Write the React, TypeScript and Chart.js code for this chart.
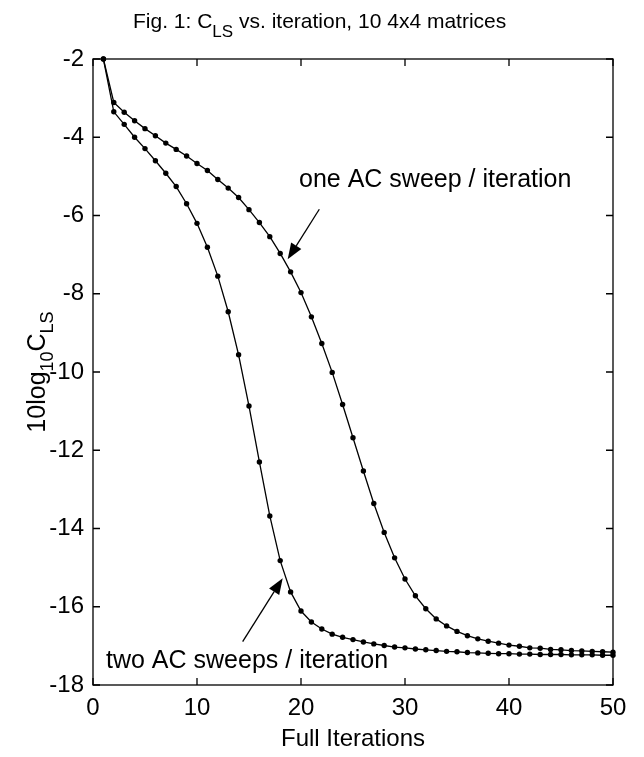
import { useEffect, useRef } from "react";
import { Chart, registerables } from "chart.js";

Chart.register(...registerables);

const iterations = Array.from({ length: 50 }, (_, i) => i + 1);

const oneSweep = [
  -2, -3.11, -3.36, -3.58, -3.78, -3.96, -4.15, -4.31, -4.48, -4.67,
  -4.85, -5.08, -5.3, -5.54, -5.85, -6.18, -6.54, -6.97, -7.44, -7.97,
  -8.59, -9.27, -10.01, -10.83, -11.68, -12.53, -13.36, -14.1, -14.75, -15.29,
  -15.72, -16.05, -16.31, -16.49, -16.63, -16.74, -16.82, -16.88, -16.93, -16.98,
  -17.01, -17.05, -17.06, -17.09, -17.1, -17.12, -17.13, -17.14, -17.15, -17.16,
];

const twoSweeps = [
  -2, -3.35, -3.67, -4.0, -4.29, -4.6, -4.92, -5.26, -5.7, -6.2,
  -6.81, -7.55, -8.46, -9.56, -10.87, -12.3, -13.68, -14.82, -15.62, -16.11,
  -16.39, -16.57, -16.7, -16.78, -16.84, -16.9, -16.95, -16.99, -17.03, -17.05,
  -17.08, -17.1, -17.12, -17.14, -17.15, -17.17, -17.18, -17.19, -17.2, -17.2,
  -17.21, -17.21, -17.22, -17.22, -17.22, -17.23, -17.23, -17.23, -17.24, -17.24,
];

const xTicks = [0, 10, 20, 30, 40, 50];
const yTicks = [-2, -4, -6, -8, -10, -12, -14, -16, -18];

const titleRuns = [
  { text: "Fig. 1: C", sub: false },
  { text: "LS", sub: true },
  { text: " vs. iteration, 10 4x4 matrices", sub: false },
];
const yLabelRuns = [
  { text: "10log", sub: false },
  { text: "10", sub: true },
  { text: "C", sub: false },
  { text: "LS", sub: true },
];
const xLabel = "Full Iterations";

const labelOne = "one AC sweep / iteration";
const labelTwo = "two AC sweeps / iteration";
// annotation anchors in data coordinates
const labelOneAt = [19.81, -5.27];
const labelTwoAt = [1.25, -17.57];
const arrowOne = { tail: [21.76, -5.84], tip: [18.72, -7.12] };
const arrowTwo = { tail: [14.39, -16.89], tip: [18.24, -15.27] };

const FONT = '"Liberation Sans", Arial, Helvetica, sans-serif';

type Run = { text: string; sub: boolean };

function runsWidth(ctx: CanvasRenderingContext2D, runs: Run[], main: number, sub: number) {
  let w = 0;
  for (const r of runs) {
    ctx.font = `${r.sub ? sub : main}px ${FONT}`;
    w += ctx.measureText(r.text).width;
  }
  return w;
}

function drawRuns(
  ctx: CanvasRenderingContext2D,
  runs: Run[],
  x: number,
  y: number,
  main: number,
  sub: number,
  subShift: number
) {
  let cx = x;
  for (const r of runs) {
    ctx.font = `${r.sub ? sub : main}px ${FONT}`;
    ctx.fillText(r.text, cx, r.sub ? y + subShift : y);
    cx += ctx.measureText(r.text).width;
  }
}

function drawArrow(ctx: CanvasRenderingContext2D, x0: number, y0: number, x1: number, y1: number) {
  const ang = Math.atan2(y1 - y0, x1 - x0);
  const len = 16;
  const half = 6;
  const bx = x1 - len * Math.cos(ang);
  const by = y1 - len * Math.sin(ang);
  ctx.beginPath();
  ctx.moveTo(x0, y0);
  ctx.lineTo(bx, by);
  ctx.stroke();
  ctx.beginPath();
  ctx.moveTo(x1, y1);
  ctx.lineTo(bx + half * Math.sin(ang), by - half * Math.cos(ang));
  ctx.lineTo(bx - half * Math.sin(ang), by + half * Math.cos(ang));
  ctx.closePath();
  ctx.fill();
}

const figurePlugin = {
  id: "figurePlugin",
  afterDraw(chart: any) {
    const { ctx, chartArea: a } = chart;
    const xs = chart.scales.x;
    const ys = chart.scales.y;
    ctx.save();
    ctx.strokeStyle = "#000";
    ctx.fillStyle = "#000";
    ctx.lineWidth = 1.3;
    ctx.strokeRect(a.left, a.top, a.right - a.left, a.bottom - a.top);
    ctx.beginPath();
    const tl = 7;
    for (const t of xTicks) {
      const px = xs.getPixelForValue(t);
      ctx.moveTo(px, a.bottom);
      ctx.lineTo(px, a.bottom - tl);
      ctx.moveTo(px, a.top);
      ctx.lineTo(px, a.top + tl);
    }
    for (const t of yTicks) {
      const py = ys.getPixelForValue(t);
      ctx.moveTo(a.left, py);
      ctx.lineTo(a.left + tl, py);
      ctx.moveTo(a.right, py);
      ctx.lineTo(a.right - tl, py);
    }
    ctx.stroke();

    // title
    ctx.textBaseline = "alphabetic";
    ctx.textAlign = "left";
    drawRuns(ctx, titleRuns, 133, 28, 21, 17, 9);

    // y label
    ctx.save();
    const midY = (a.top + a.bottom) / 2;
    ctx.translate(45, midY);
    ctx.rotate(-Math.PI / 2);
    const w = runsWidth(ctx, yLabelRuns, 25, 18);
    drawRuns(ctx, yLabelRuns, -w / 2, 0, 25, 18, 8);
    ctx.restore();

    // x label
    ctx.font = `24px ${FONT}`;
    ctx.textAlign = "center";
    ctx.fillText(xLabel, (a.left + a.right) / 2, 746);

    // annotations
    ctx.textAlign = "left";
    ctx.font = `25px ${FONT}`;
    ctx.fillText(labelOne, xs.getPixelForValue(labelOneAt[0]), ys.getPixelForValue(labelOneAt[1]));
    ctx.fillText(labelTwo, xs.getPixelForValue(labelTwoAt[0]), ys.getPixelForValue(labelTwoAt[1]));

    ctx.lineWidth = 1.3;
    for (const ar of [arrowOne, arrowTwo]) {
      drawArrow(
        ctx,
        xs.getPixelForValue(ar.tail[0]),
        ys.getPixelForValue(ar.tail[1]),
        xs.getPixelForValue(ar.tip[0]),
        ys.getPixelForValue(ar.tip[1])
      );
    }
    ctx.restore();
  },
};

export default function App() {
  const ref = useRef<HTMLCanvasElement | null>(null);
  useEffect(() => {
    if (!ref.current) return;
    const seriesStyle = {
      borderColor: "#000",
      backgroundColor: "#000",
      borderWidth: 1.3,
      pointRadius: 2.7,
      pointBackgroundColor: "#000",
      pointBorderWidth: 0,
      tension: 0,
      clip: false as any,
    };
    const chart = new Chart(ref.current, {
      type: "line",
      data: {
        datasets: [
          {
            label: labelOne,
            data: iterations.map((x, i) => ({ x, y: oneSweep[i] })),
            ...seriesStyle,
          },
          {
            label: labelTwo,
            data: iterations.map((x, i) => ({ x, y: twoSweeps[i] })),
            ...seriesStyle,
          },
        ],
      },
      options: {
        responsive: false,
        animation: false,
        devicePixelRatio: 1,
        layout: { padding: { top: 59, right: 31, left: 0, bottom: 0 } },
        plugins: { legend: { display: false }, tooltip: { enabled: false }, title: { display: false } },
        scales: {
          x: {
            type: "linear",
            min: 0,
            max: 50,
            afterBuildTicks: (s: any) => {
              s.ticks = xTicks.map((v) => ({ value: v }));
            },
            afterFit: (s: any) => {
              s.height = 72;
            },
            ticks: {
              color: "#000",
              font: { family: FONT, size: 24 },
              padding: 9,
              maxRotation: 0,
              autoSkip: false,
            },
            grid: { display: false, drawTicks: false },
            border: { display: false },
          },
          y: {
            type: "linear",
            min: -18,
            max: -2,
            afterBuildTicks: (s: any) => {
              s.ticks = yTicks.map((v) => ({ value: v }));
            },
            afterFit: (s: any) => {
              s.width = 93;
            },
            ticks: {
              color: "#000",
              font: { family: FONT, size: 24 },
              padding: 9,
              autoSkip: false,
            },
            grid: { display: false, drawTicks: false },
            border: { display: false },
          },
        },
      },
      plugins: [figurePlugin],
    });
    return () => chart.destroy();
  }, []);
  return (
    <div style={{ position: "fixed", left: 0, top: 0, width: 644, height: 757, background: "#fff" }}>
      <canvas ref={ref} width={644} height={757} />
    </div>
  );
}
